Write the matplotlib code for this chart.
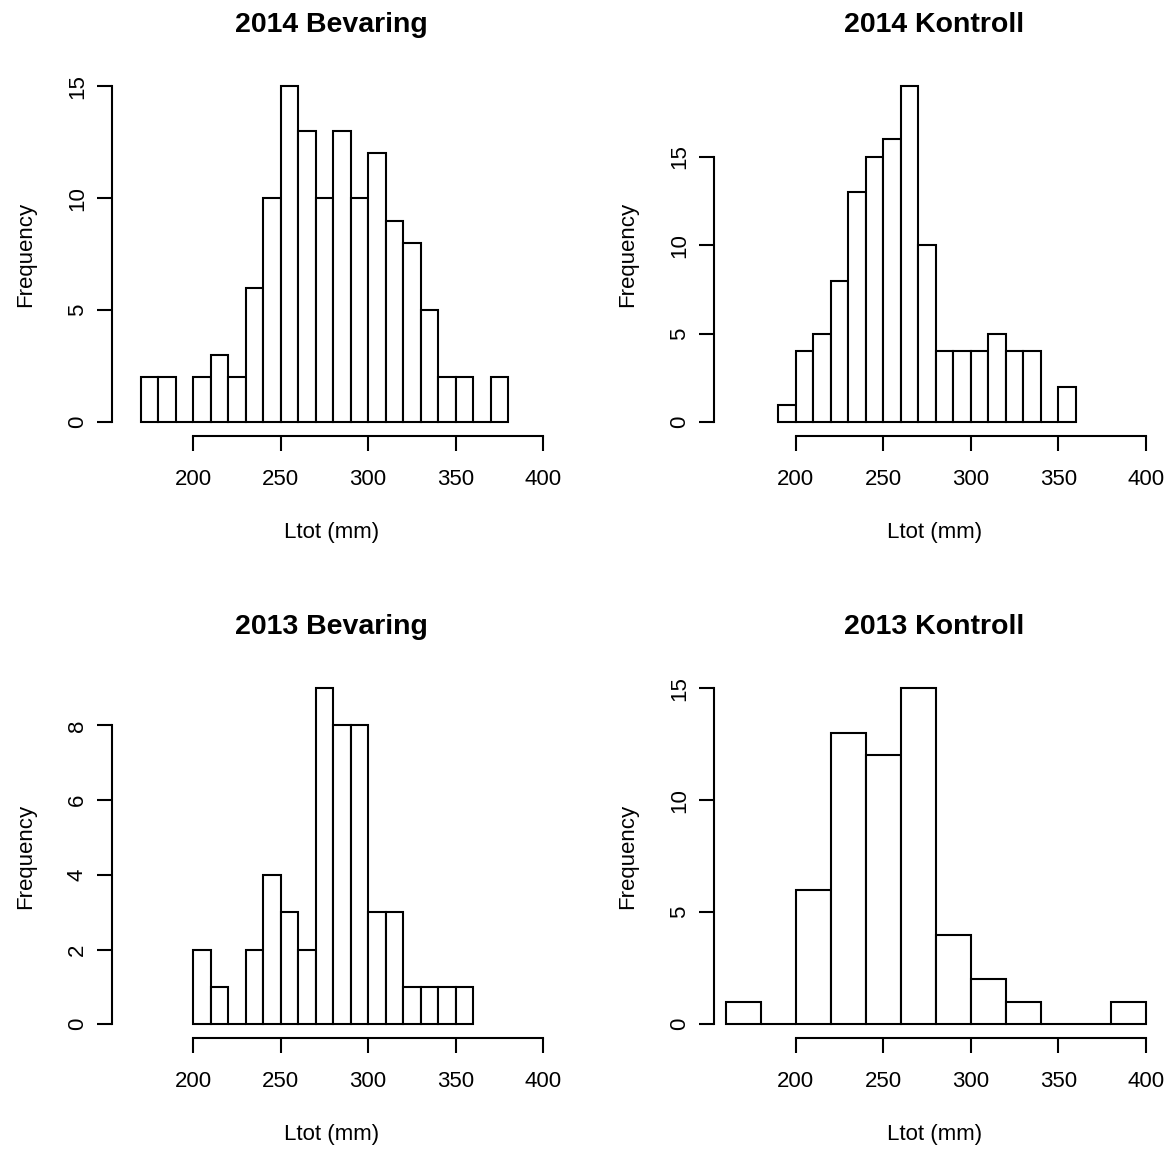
import matplotlib
matplotlib.use("Agg")
import matplotlib.pyplot as plt
import numpy as np

plt.rcParams['font.family'] = ['Liberation Sans', 'DejaVu Sans']

# bin edges and counts
edges_2014_bev = np.arange(170, 390, 10)
counts_2014_bev = [2, 2, 0, 2, 3, 2, 6, 10, 15, 13, 10, 13, 10, 12, 9, 8, 5, 2, 2, 0, 2]

edges_2014_kon = np.arange(190, 370, 10)
counts_2014_kon = [1, 4, 5, 8, 13, 15, 16, 19, 10, 4, 4, 4, 5, 4, 4, 0, 2]

edges_2013_bev = np.arange(200, 370, 10)
counts_2013_bev = [2, 1, 0, 2, 4, 3, 2, 9, 8, 8, 3, 3, 1, 1, 1, 1]

edges_2013_kon = np.arange(160, 420, 20)
counts_2013_kon = [1, 0, 6, 13, 12, 15, 4, 2, 1, 0, 0, 1]

xticks = [200, 250, 300, 350, 400]
yticks_a = [0, 5, 10, 15]
yticks_b = [0, 2, 4, 6, 8]

W, H = 1168, 1149
fig = plt.figure(figsize=(W / 100, H / 100), dpi=100)

def px(x, y):
    return x / W, 1 - y / H

panels = [
    ("2014 Bevaring", edges_2014_bev, counts_2014_bev, yticks_a, 111.7, 0),
    ("2014 Kontroll", edges_2014_kon, counts_2014_kon, yticks_a, 714.3, 0),
    ("2013 Bevaring", edges_2013_bev, counts_2013_bev, yticks_b, 111.7, 602),
    ("2013 Kontroll", edges_2013_kon, counts_2013_kon, yticks_a, 714.3, 602),
]

lw = 1.5
for title, edges, counts, yt, left, dy in panels:
    right = left + (405 - 153.5) * 1.75
    top, bottom = 72.7 + dy, 435.7 + dy
    ax = fig.add_axes([left / W, 1 - bottom / H, (right - left) / W, (bottom - top) / H])
    widths = np.diff(edges)
    ax.bar(edges[:-1], counts, width=widths, align='edge', color='white',
           edgecolor='black', linewidth=lw)
    ymax = max(counts)
    ax.set_xlim(153.5, 405)
    ax.set_ylim(-0.04 * ymax, 1.04 * ymax)
    ax.spines['top'].set_visible(False)
    ax.spines['right'].set_visible(False)
    ax.spines['left'].set_bounds(yt[0], yt[-1])
    ax.spines['bottom'].set_bounds(xticks[0], xticks[-1])
    for s in ['left', 'bottom']:
        ax.spines[s].set_linewidth(lw)
    ax.set_xticks(xticks)
    ax.set_yticks(yt)
    ax.tick_params(axis='both', direction='out', length=10.8, width=lw, labelsize=16)
    ax.tick_params(axis='x', pad=13.5)
    ax.tick_params(axis='y', pad=6.3)
    for lab in ax.get_yticklabels():
        lab.set_rotation(90)
        lab.set_va('center')
    cx = (left + right) / 2
    fig.text(*px(cx, 32.5 + dy), title, ha='center', va='baseline',
             fontsize=20.5, fontweight='bold')
    fig.text(*px(cx, 538 + dy), "Ltot (mm)", ha='center', va='baseline', fontsize=16)
    fig.text(*px(left - 80.7, (top + bottom) / 2), "Frequency", rotation=90,
             rotation_mode='anchor', ha='center', va='baseline', fontsize=16)

fig.savefig("out.png", dpi=100)
